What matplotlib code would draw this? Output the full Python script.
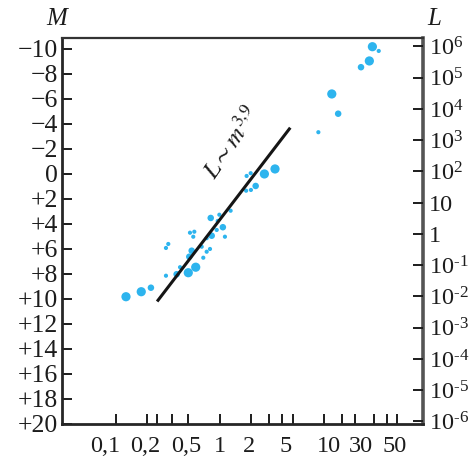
import numpy as np
import matplotlib
matplotlib.use("Agg")
import matplotlib.pyplot as plt
import matplotlib.transforms as mtransforms
from matplotlib.ticker import FixedLocator, NullFormatter

# ---------------- data ----------------
# star mass (solar units) and absolute magnitude M
mass = [29.2, 33.6, 27.3, 22.7, 11.9, 13.7, 8.84,
        3.39, 2.68, 1.81, 1.98, 2.21, 1.99, 1.79,
        1.27, 0.818, 0.99, 0.955, 1.07, 0.934, 0.836, 1.12,
        0.517, 0.569, 0.556, 0.748, 0.320, 0.304, 0.537, 0.670,
        0.805, 0.748, 0.509, 0.694, 0.415, 0.587, 0.498, 0.385,
        0.304, 0.218, 0.176, 0.1256]
magnitude = [-10.18, -9.84, -9.04, -8.54, -6.4, -4.82, -3.34,
             -0.4, 0.0, 0.16, -0.06, 0.96, 1.28, 1.34,
             2.94, 3.52, 3.26, 3.76, 4.26, 4.48, 4.94, 5.02,
             4.70, 4.62, 5.02, 5.14, 5.6, 5.92, 6.14, 5.82,
             6.0, 6.22, 6.62, 6.70, 7.46, 7.46, 7.9, 8.02,
             8.14, 9.1, 9.42, 9.82]
# marker size class: 1 small, 2 medium, 3 big
size_class = [3, 1, 3, 2, 3, 2, 1,
              3, 3, 1, 1, 2, 1, 1,
              1, 2, 1, 1, 2, 1, 2, 1,
              1, 1, 1, 1, 1, 1, 2, 1,
              1, 1, 2, 1, 1, 3, 3, 2,
              1, 2, 3, 3]

# fitted relation L ~ m^3.9 (end points)
line_mass = [0.25, 4.75]
line_mag = [10.2, -3.7]

mag_ticks = [-10, -8, -6, -4, -2, 0, 2, 4, 6, 8, 10, 12, 14, 16, 18, 20]
mag_labels = ["\u221210", "\u22128", "\u22126", "\u22124", "\u22122", "0",
              "+2", "+4", "+6", "+8", "+10", "+12", "+14", "+16", "+18", "+20"]
lum_exponents = [6, 5, 4, 3, 2, 1, 0, -1, -2, -3, -4, -5, -6]
mass_major = [0.1, 0.2, 0.5, 1, 2, 5, 10, 30, 50]
mass_major_labels = ["0,1", "0,2", "0,5", "1", "2", "5", "10", "30", "50"]
mass_minor = [0.25, 0.35, 3, 4, 15, 20, 40]

# ---------------- style ----------------
plt.rcParams['font.family'] = ['Liberation Serif', 'DejaVu Serif']
plt.rcParams['mathtext.fontset'] = 'stix'
dot_color = '#2DB4EE'
ink = '#1c1c1c'
size_map = {1: 9, 2: 22, 3: 44}
# horizontal nudges (pixels) of the bottom labels as printed in the original
xlabel_nudge = [-10, -2, -2, 0, -2, -7, 5, -13, -2]

fig = plt.figure(figsize=(4.71, 4.62), dpi=100)
ax = fig.add_axes([0.1316, 0.0823, 0.7671, 0.8361])

ax.set_xscale('log')
ax.set_xlim(0.0305, 90)
ax.set_ylim(20.0, -10.9)

ax.scatter(mass, magnitude, s=[size_map[c] for c in size_class],
           color=dot_color, edgecolors='none', zorder=3)
ax.plot(line_mass, line_mag, color='#151515', lw=2.2, solid_capstyle='butt', zorder=4)

ax.text(1.31, -2.48, r'$L \sim m^{3{,}9}$', rotation=56, rotation_mode='anchor',
        ha='center', va='center', fontsize=18, color=ink)

# left axis
ax.yaxis.set_major_locator(FixedLocator(mag_ticks))
ax.set_yticklabels(mag_labels)
ax.tick_params(axis='y', which='both', direction='in', length=7, width=1.4,
               pad=3, labelsize=18.5, colors=ink)
# bottom axis
ax.xaxis.set_major_locator(FixedLocator(mass_major))
ax.set_xticklabels(mass_major_labels)
ax.xaxis.set_minor_locator(FixedLocator(mass_minor))
ax.xaxis.set_minor_formatter(NullFormatter())
ax.tick_params(axis='x', which='both', direction='in', length=7, width=1.4,
               pad=9, labelsize=17.5, colors=ink)
for lbl, dx in zip(ax.get_xticklabels(), xlabel_nudge):
    lbl.set_transform(lbl.get_transform() +
                      mtransforms.ScaledTranslation(dx / 100, 0, fig.dpi_scale_trans))

for side, lw, col in [('left', 2.0, '#262626'), ('bottom', 2.0, '#262626'),
                      ('top', 1.6, '#333333'), ('right', 2.6, '#555555')]:
    ax.spines[side].set_linewidth(lw)
    ax.spines[side].set_color(col)

# right axis: luminosity (solar units)
ax2 = ax.twinx()
ax2.set_ylim(ax.get_ylim())
lum_pos = [4.8 - 2.5 * k for k in lum_exponents]
lum_labels = []
for k in lum_exponents:
    if k == 1:
        lum_labels.append('10')
    elif k == 0:
        lum_labels.append('1')
    else:
        exp = str(abs(k)) if k > 0 else '\u2010' + str(abs(k))
        lum_labels.append(r'$\mathregular{10^{%s}}$' % exp)
ax2.yaxis.set_major_locator(FixedLocator(lum_pos))
ax2.set_yticklabels(lum_labels)
ax2.tick_params(axis='y', direction='in', length=7, width=1.4, pad=4,
                labelsize=17.5, colors=ink)
for s in ax2.spines.values():
    s.set_visible(False)

fig.text(57 / 471, 1 - 19 / 462, 'M', fontsize=18, style='italic',
         ha='center', va='center', color=ink)
fig.text(434 / 471, 1 - 19 / 462, 'L', fontsize=18, style='italic',
         ha='center', va='center', color=ink)

fig.savefig('out.png', dpi=100)
